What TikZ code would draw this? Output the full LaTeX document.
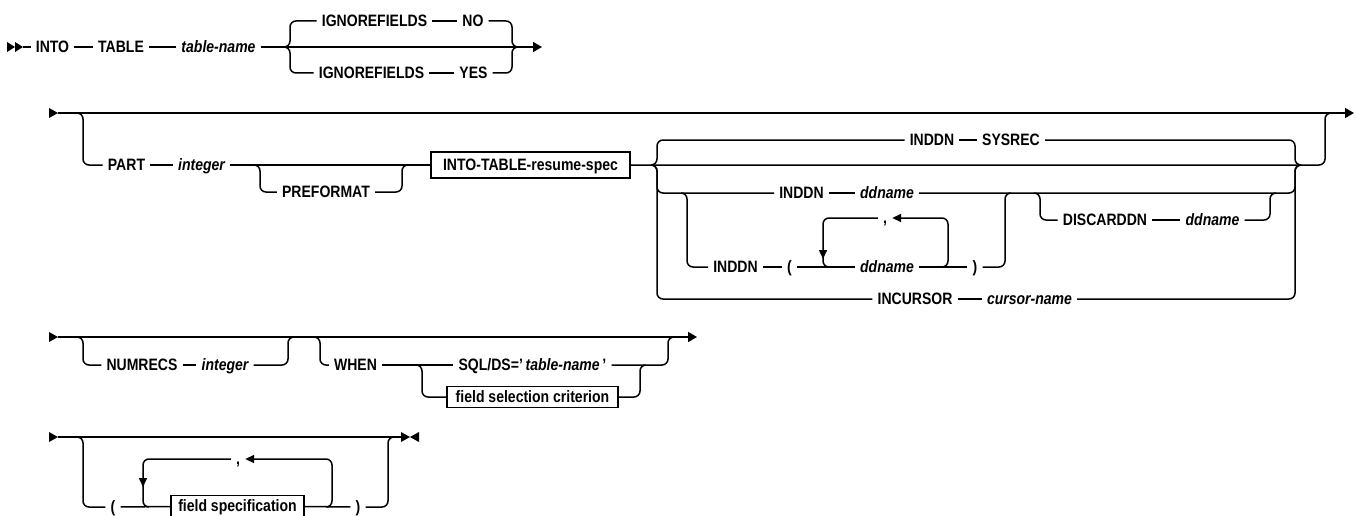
\documentclass[tikz,border=0pt]{standalone}
\usepackage{fontspec}
\setmainfont{Liberation Sans}[FakeStretch=0.85]
\usetikzlibrary{arrows.meta}
\begin{document}
\begin{tikzpicture}[x=1pt,y=-1pt,
  every node/.style={font=\fontsize{16.5}{18}\selectfont\bfseries, inner ysep=0pt, inner xsep=5pt, text height=11.8pt, text depth=0pt},
  var/.style={font=\fontsize{16.5}{18}\selectfont\bfseries\itshape},
  box/.style={draw, line width=1.4pt, inner xsep=6pt},
  ln/.style={line width=1.5pt},
  rr/.style={line width=1.5pt, rounded corners=6pt},
  endtip/.style={-{Triangle[length=9pt,width=10pt]}},
  looptip/.style={-{Triangle[length=9pt,width=8pt]}},
]
\useasboundingbox (0,0) rectangle (1356,516);

% ---------------- Row 1 ----------------
\fill (7,42) -- (15,47) -- (7,52) -- cycle;
\fill (15,42) -- (23,47) -- (15,52) -- cycle;
\coordinate (s1) at (23,47);
\coordinate (e1) at (542,47);
\node (into) at (52.5,47) {INTO};
\node (table) at (121,47) {TABLE};
\node[var] (tname) at (218.5,47) {table-name};
\node (ig1) at (374.5,21) {IGNOREFIELDS};
\node (no) at (473,21) {NO};
\node (ig2) at (371.5,73) {IGNOREFIELDS};
\node (yes) at (473.5,73) {YES};
\draw[ln] (s1) -- (into) -- (table) -- (tname);
\draw[ln,endtip] (tname) -- (e1);
\draw[rr] (284,47) -- (290,47) -- (290,21) -- (ig1.west);
\draw[rr] (284,47) -- (290,47) -- (290,73) -- (ig2.west);
\draw[ln] (ig1) -- (no);
\draw[ln] (ig2) -- (yes);
\draw[rr] (no.east) -- (512,21) -- (512,47) -- (518,47);
\draw[rr] (yes.east) -- (512,73) -- (512,47) -- (518,47);

% ---------------- Row 2 ----------------
\fill (49,108) -- (58,113) -- (49,118) -- cycle;
\coordinate (s2) at (58,113);
\coordinate (e2) at (1354,113);
\draw[ln,endtip] (s2) -- (e2);
\node (part) at (126.5,165) {PART};
\node[var] (int1) at (201.5,165) {integer};
\node (pref) at (326,192) {PREFORMAT};
\node[box, minimum width=199pt, minimum height=26pt] (resume) at (530.5,165) {INTO-TABLE-resume-spec};
\draw[rr] (77,113) -- (83,113) -- (83,165) -- (part.west);
\draw[ln] (part) -- (int1) -- (resume);
\draw[rr] (254,165) -- (260,165) -- (260,192) -- (pref.west);
\draw[rr] (pref.east) -- (402,192) -- (402,165) -- (408,165);
\draw[rr] (resume.east) -- (1325,165) -- (1325,113) -- (1331,113);

\node (inddn1) at (932,140) {INDDN};
\node (sysrec) at (1011,140) {SYSREC};
\node (inddn2) at (801.5,193) {INDDN};
\node[var] (dd1) at (887,193) {ddname};
\node (inddn3) at (735.5,267) {INDDN};
\node (lp1) at (789.5,267) {(};
\node[var] (dd2) at (887,267) {ddname};
\node (rp1) at (975,267) {)};
\node (comma1) at (885,218) {,};
\node (disc) at (1105,220) {DISCARDDN};
\node[var] (dd3) at (1212.5,220) {ddname};
\node (incur) at (915,299) {INCURSOR};
\node[var] (curname) at (1029.5,299) {cursor-name};

\draw[rr] (651,165) -- (657,165) -- (657,140) -- (inddn1.west);
\draw[ln] (inddn1) -- (sysrec);
\draw[rr] (sysrec.east) -- (1295,140) -- (1295,165) -- (1301,165);

\draw[rr] (651,165) -- (657,165) -- (657,193) -- (inddn2.west);
\draw[ln] (inddn2) -- (dd1);
\draw[rr] (dd1.east) -- (1295,193) -- (1295,165) -- (1301,165);

\draw[rr] (651,165) -- (657,165) -- (657,299) -- (incur.west);
\draw[ln] (incur) -- (curname);
\draw[rr] (curname.east) -- (1295,299) -- (1295,165) -- (1301,165);

\draw[rr] (681,193) -- (687,193) -- (687,267) -- (inddn3.west);
\draw[ln] (inddn3) -- (lp1) -- (dd2) -- (rp1);
\draw[rr] (rp1.east) -- (1005,267) -- (1005,193) -- (1011,193);
\draw[rr,looptip] (942,267) -- (948,267) -- (948,218) -- (comma1.east);
\draw[rr,looptip] (comma1.west) -- (823,218) -- (823,259);
\draw[rr] (823,252) -- (823,267) -- (829,267);

\draw[rr] (1034,193) -- (1040,193) -- (1040,220) -- (disc.west);
\draw[ln] (disc) -- (dd3);
\draw[rr] (dd3.east) -- (1270,220) -- (1270,193) -- (1276,193);

% ---------------- Row 3 ----------------
\fill (49,332) -- (58,337) -- (49,342) -- cycle;
\coordinate (s3) at (58,337);
\coordinate (e3) at (697,337);
\draw[ln,endtip] (s3) -- (e3);
\node (numrecs) at (142,365) {NUMRECS};
\node[var] (int2) at (225,365) {integer};
\node (when) at (355.5,365) {WHEN};
\node (sqlds) at (532.5,365) {SQL/DS='\,\textit{table-name}\,'};
\node[box, minimum width=171pt, minimum height=21pt] (fsc) at (532.5,397) {field selection criterion};
\draw[rr] (77,337) -- (83,337) -- (83,365) -- (numrecs.west);
\draw[ln] (numrecs) -- (int2);
\draw[rr] (int2.east) -- (288,365) -- (288,337) -- (294,337);
\draw[rr] (314,337) -- (320,337) -- (320,365) -- (when.west);
\draw[ln] (when) -- (sqlds);
\draw[rr] (sqlds.east) -- (668,365) -- (668,337) -- (674,337);
\draw[rr] (416,365) -- (422,365) -- (422,397) -- (fsc.west);
\draw[rr] (fsc.east) -- (640,397) -- (640,365) -- (646,365);

% ---------------- Row 4 ----------------
\fill (49,432) -- (58,437) -- (49,442) -- cycle;
\coordinate (s4) at (58,437);
\coordinate (e4) at (402,437);
\draw[ln] (s4) -- (e4);
\fill (401,432) -- (410,437) -- (401,442) -- cycle;
\fill (419,432) -- (410,437) -- (419,442) -- cycle;
\node (lp2) at (113,507) {(};
\node[box, minimum width=133pt, minimum height=21pt] (fs) at (237.5,506) {field specification};
\node (rp2) at (358,507) {)};
\node (comma2) at (238,459) {,};
\draw[rr] (77,437) -- (83,437) -- (83,507) -- (lp2.west);
\draw[ln] (lp2) -- (fs) -- (rp2);
\draw[rr] (rp2.east) -- (388,507) -- (388,437) -- (394,437);
\draw[rr,looptip] (326,507) -- (332,507) -- (332,459) -- (comma2.east);
\draw[rr,looptip] (comma2.west) -- (143,459) -- (143,487);
\draw[rr] (143,480) -- (143,507) -- (149,507);
\end{tikzpicture}
\end{document}
